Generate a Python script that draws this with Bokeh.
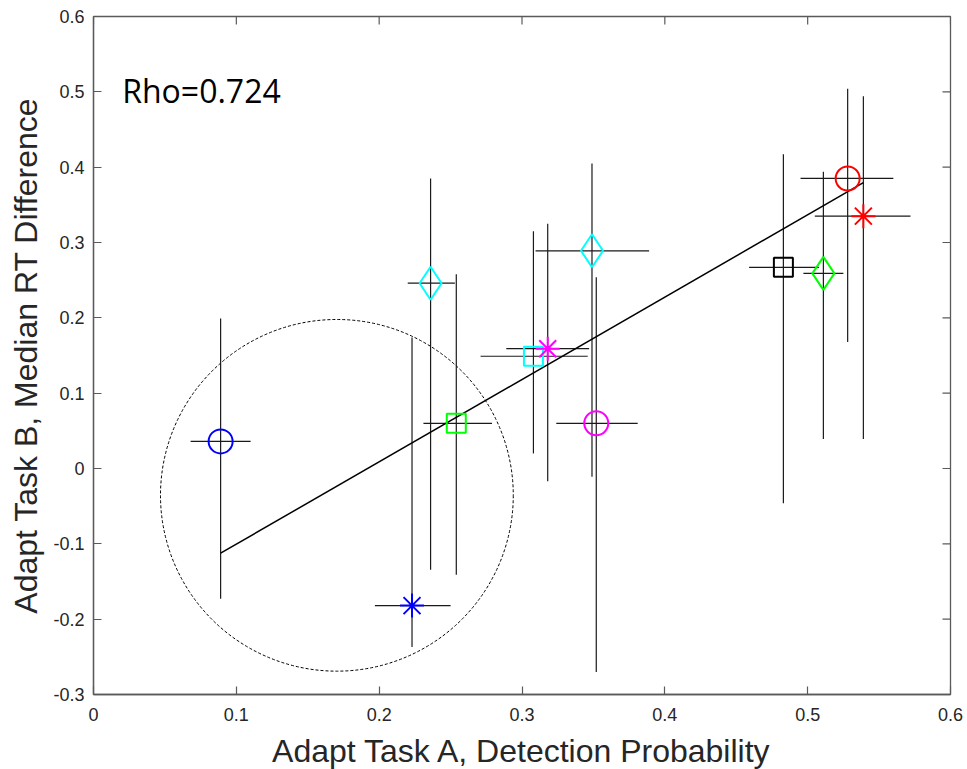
from bokeh.plotting import figure
from bokeh.models import Range1d, FixedTicker, Label, ColumnDataSource
from bokeh.embed import file_html
from bokeh.resources import INLINE
import numpy as np

# ---- data ----
x_vals = [0.089, 0.223, 0.254, 0.236, 0.308, 0.318, 0.349, 0.352, 0.483, 0.511, 0.528, 0.539]
y_vals = [0.036, -0.182, 0.060, 0.246, 0.149, 0.159, 0.289, 0.060, 0.267, 0.259, 0.385, 0.335]
x_lo = [0.068, 0.197, 0.231, 0.220, 0.271, 0.289, 0.3095, 0.324, 0.459, 0.497, 0.495, 0.505]
x_hi = [0.110, 0.250, 0.279, 0.253, 0.346, 0.347, 0.389, 0.381, 0.508, 0.525, 0.560, 0.572]
y_lo = [-0.173, -0.237, -0.141, -0.1345, 0.020, -0.017, -0.011, -0.270, -0.046, 0.039, 0.168, 0.039]
y_hi = [0.199, 0.174, 0.258, 0.385, 0.315, 0.325, 0.405, 0.254, 0.417, 0.394, 0.504, 0.494]
markers = ["circle", "asterisk", "square", "diamond", "square", "asterisk",
           "diamond", "circle", "square", "diamond", "circle", "asterisk"]
colors = ["#0000ff", "#0000ff", "#00ff00", "#00ffff", "#00ffff", "#ff00ff",
          "#00ffff", "#ff00ff", "#000000", "#00ff00", "#ff0000", "#ff0000"]

fit_slope = 1.093
fit_intercept = -0.2097
rho_text = "Rho=0.724"

ellipse_center = (0.1704, -0.0356)
ellipse_size = (0.247, 0.467)

x_min, x_max = 0.0, 0.6
y_min, y_max = -0.3, 0.6
x_ticks = [0, 0.1, 0.2, 0.3, 0.4, 0.5, 0.6]
x_tick_labels = ["0", "0.1", "0.2", "0.3", "0.4", "0.5", "0.6"]
y_ticks = [-0.3, -0.2, -0.1, 0, 0.1, 0.2, 0.3, 0.4, 0.5, 0.6]
y_tick_labels = ["-0.3", "-0.2", "-0.1", "0", "0.1", "0.2", "0.3", "0.4", "0.5", "0.6"]

x_label = "Adapt Task A, Detection Probability"
y_label = "Adapt Task B, Median RT Difference"

# ---- styles ----
FRAME_W, FRAME_H = 857, 678
TICK_PX = 8
marker_size = {"circle": 24, "square": 19, "diamond": 33, "asterisk": 24}
axis_color = "#5a5a5a"
text_color = "#262626"
label_font = "Liberation Sans"

p = figure(frame_width=FRAME_W, frame_height=FRAME_H, output_backend="svg", toolbar_location=None,
           x_range=Range1d(x_min, x_max), y_range=Range1d(y_min, y_max),
           min_border_left=93, min_border_right=17, min_border_top=16, min_border_bottom=75,
           x_axis_label=x_label, y_axis_label=y_label)
p.background_fill_color = "white"
p.border_fill_color = "white"
p.outline_line_color = axis_color
p.outline_line_width = 1.3
p.xgrid.visible = False
p.ygrid.visible = False

for ax, ticks, labels in [(p.xaxis[0], x_ticks, x_tick_labels), (p.yaxis[0], y_ticks, y_tick_labels)]:
    ax.ticker = FixedTicker(ticks=ticks)
    ax.major_label_overrides = {t: l for t, l in zip(ticks, labels)}
    ax.major_tick_in = TICK_PX
    ax.major_tick_out = 0
    ax.minor_tick_line_color = None
    ax.axis_line_color = axis_color
    ax.axis_line_width = 1.3
    ax.major_tick_line_color = axis_color
    ax.major_tick_line_width = 1.2
    ax.major_label_text_font = label_font
    ax.major_label_text_font_size = "18px"
    ax.major_label_text_color = text_color
    ax.axis_label_text_font = label_font
    ax.axis_label_text_font_size = "32px"
    ax.axis_label_text_font_style = "normal"
    ax.axis_label_text_color = text_color

p.xaxis[0].major_label_standoff = 13
p.xaxis[0].axis_label_standoff = 9
p.yaxis[0].major_label_standoff = 9
p.yaxis[0].axis_label_standoff = 6

# inward ticks on the top and right edges of the box
tx = TICK_PX * (x_max - x_min) / FRAME_W
ty = TICK_PX * (y_max - y_min) / FRAME_H
p.segment(x0=x_ticks, y0=[y_max] * len(x_ticks), x1=x_ticks, y1=[y_max - ty] * len(x_ticks),
          line_color=axis_color, line_width=1.2)
p.segment(x0=[x_max] * len(y_ticks), y0=y_ticks, x1=[x_max - tx] * len(y_ticks), y1=y_ticks,
          line_color=axis_color, line_width=1.2)

src = ColumnDataSource(dict(
    x=x_vals, y=y_vals, xlo=x_lo, xhi=x_hi, ylo=y_lo, yhi=y_hi,
    marker=markers, color=colors, size=[marker_size[m] for m in markers]))

# dashed highlight ellipse
p.ellipse(x=[ellipse_center[0]], y=[ellipse_center[1]], width=[ellipse_size[0]],
          height=[ellipse_size[1]], fill_color=None, line_color="black",
          line_width=1, line_dash="3 2")

# error bars
p.segment(x0="xlo", y0="y", x1="xhi", y1="y", source=src, line_color="#1a1a1a", line_width=1.2)
p.segment(x0="x", y0="ylo", x1="x", y1="yhi", source=src, line_color="#1a1a1a", line_width=1.2)

# fit line across the data's x range
fx = np.array([min(x_vals), max(x_vals)])
p.line(fx, fit_intercept + fit_slope * fx, line_color="black", line_width=1.5)

# markers
p.scatter(x="x", y="y", marker="marker", size="size", source=src,
          fill_color=None, line_color="color", line_width=2)

p.add_layout(Label(x=0.0201, y=0.5018, text=rho_text, text_font="Open Sans",
                   text_font_size="32px", text_color="black", text_baseline="alphabetic"))

open("out.html", "w").write(file_html(p, INLINE))
